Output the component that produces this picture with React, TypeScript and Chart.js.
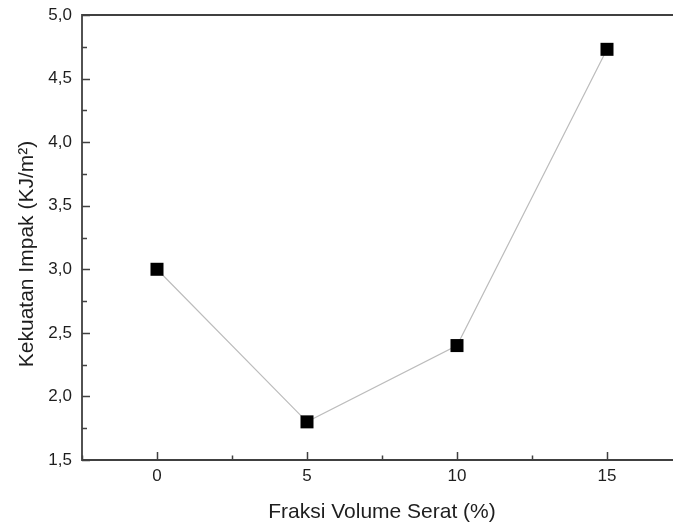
import React, { useEffect, useRef } from "react";
import { Chart, registerables } from "chart.js";

Chart.register(...registerables);

const fractions = [0, 5, 10, 15];
const impact = [3.0, 1.8, 2.4, 4.73];
const xMajorTicks = [0, 5, 10, 15];
const xMinorTicks = [-2.5, 2.5, 7.5, 12.5];
const yMajorTicks = [1.5, 2.0, 2.5, 3.0, 3.5, 4.0, 4.5, 5.0];
const yMinorTicks = [1.75, 2.25, 2.75, 3.25, 3.75, 4.25, 4.75];
const xTitle = "Fraksi Volume Serat (%)";
const yTitle = "Kekuatan Impak (KJ/m²)";

const AXIS_COLOR = "#404040";
const TEXT_COLOR = "#1e1e1e";
const FONT = "Arial, 'Liberation Sans', sans-serif";

const framePlugin = {
  id: "frame",
  afterDraw(chart: any) {
    const { ctx, chartArea } = chart;
    const xs = chart.scales.x;
    const ys = chart.scales.y;
    ctx.save();
    ctx.strokeStyle = AXIS_COLOR;
    ctx.lineWidth = 1.8;
    ctx.beginPath();
    ctx.moveTo(chartArea.right + 2, chartArea.top);
    ctx.lineTo(chartArea.left, chartArea.top);
    ctx.lineTo(chartArea.left, chartArea.bottom);
    ctx.lineTo(chartArea.right + 2, chartArea.bottom);
    ctx.stroke();
    ctx.lineWidth = 1.5;
    ctx.beginPath();
    xMajorTicks.forEach((v) => {
      const px = Math.round(xs.getPixelForValue(v)) + 0.5;
      ctx.moveTo(px, chartArea.bottom);
      ctx.lineTo(px, chartArea.bottom - 8);
    });
    xMinorTicks.forEach((v) => {
      const px = Math.round(xs.getPixelForValue(v)) + 0.5;
      ctx.moveTo(px, chartArea.bottom);
      ctx.lineTo(px, chartArea.bottom - 4.5);
    });
    yMajorTicks.forEach((v) => {
      const py = Math.round(ys.getPixelForValue(v)) + 0.5;
      ctx.moveTo(chartArea.left, py);
      ctx.lineTo(chartArea.left + 8, py);
    });
    yMinorTicks.forEach((v) => {
      const py = Math.round(ys.getPixelForValue(v)) + 0.5;
      ctx.moveTo(chartArea.left, py);
      ctx.lineTo(chartArea.left + 5, py);
    });
    ctx.stroke();

    // axis titles
    ctx.fillStyle = TEXT_COLOR;
    ctx.font = `21px ${FONT}`;
    ctx.textAlign = "center";
    ctx.textBaseline = "alphabetic";
    ctx.fillText(xTitle, xs.getPixelForValue(7.5), 518);
    ctx.save();
    ctx.translate(33, 254);
    ctx.rotate(-Math.PI / 2);
    ctx.fillText(yTitle, 0, 0);
    ctx.restore();
    ctx.restore();
  },
};

export default function App() {
  const canvasRef = useRef<HTMLCanvasElement>(null);

  useEffect(() => {
    document.body.style.margin = "0";
    document.body.style.overflow = "hidden";
    const canvas = canvasRef.current;
    if (!canvas) return;
    const chart = new Chart(canvas, {
      type: "scatter",
      data: {
        datasets: [
          {
            data: fractions.map((x, i) => ({ x, y: impact[i] })),
            showLine: true,
            borderColor: "#bcbcbc",
            borderWidth: 1.2,
            pointStyle: "rect",
            pointRadius: 9.2,
            pointBackgroundColor: "#000000",
            pointBorderColor: "#000000",
            pointBorderWidth: 0,
          },
        ],
      },
      options: {
        animation: false,
        responsive: false,
        maintainAspectRatio: false,
        layout: { autoPadding: false, padding: { top: 15, right: 0, left: 0, bottom: 0 } },
        plugins: {
          legend: { display: false },
          tooltip: { enabled: false },
        },
        scales: {
          x: {
            type: "linear",
            min: -2.5,
            max: 17.2,
            afterBuildTicks: (scale: any) => {
              scale.ticks = xMajorTicks.map((v) => ({ value: v }));
            },
            afterFit: (scale: any) => {
              scale.height = 64;
              scale.paddingLeft = 0;
              scale.paddingRight = 0;
            },
            grid: { display: false, drawTicks: false },
            border: { display: false },
            ticks: {
              padding: 6,
              color: TEXT_COLOR,
              font: { family: FONT, size: 17 },
              callback: (v: any) => String(v),
            },
            title: { display: false },
          },
          y: {
            type: "linear",
            min: 1.5,
            max: 5.0,
            afterBuildTicks: (scale: any) => {
              scale.ticks = yMajorTicks.map((v) => ({ value: v }));
            },
            afterFit: (scale: any) => {
              scale.width = 82;
              scale.paddingTop = 0;
              scale.paddingBottom = 0;
            },
            grid: { display: false, drawTicks: false },
            border: { display: false },
            ticks: {
              padding: 10,
              color: TEXT_COLOR,
              font: { family: FONT, size: 17 },
              callback: (v: any) => Number(v).toFixed(1).replace(".", ","),
            },
            title: { display: false },
          },
        },
      },
      plugins: [framePlugin],
    });
    return () => chart.destroy();
  }, []);

  return (
    <div style={{ width: 673, height: 524, overflow: "hidden", position: "relative" }}>
      <canvas
        ref={canvasRef}
        width={673}
        height={524}
        style={{ display: "block", width: 673, height: 524 }}
      />
    </div>
  );
}
